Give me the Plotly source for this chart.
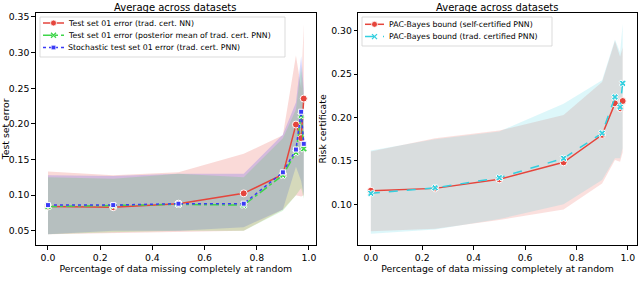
import plotly.graph_objects as go

x = [0.0, 0.25, 0.5, 0.75, 0.9, 0.95, 0.97, 0.98]

# Left panel: test errors
nn_err = [0.084, 0.083, 0.088, 0.1025, 0.129, 0.199, 0.180, 0.2355]
nn_hi = [0.133, 0.128, 0.132, 0.158, 0.184, 0.296, 0.250, 0.340]
nn_lo = [0.045, 0.047, 0.048, 0.050, 0.080, 0.100, 0.098, 0.100]

pm_err = [0.084, 0.085, 0.087, 0.086, 0.128, 0.160, 0.212, 0.165]
pm_hi = [0.125, 0.123, 0.130, 0.125, 0.180, 0.220, 0.280, 0.240]
pm_lo = [0.045, 0.048, 0.050, 0.050, 0.078, 0.100, 0.110, 0.095]

st_err = [0.086, 0.086, 0.088, 0.088, 0.132, 0.164, 0.217, 0.172]
st_hi = [0.128, 0.127, 0.130, 0.130, 0.185, 0.230, 0.295, 0.250]
st_lo = [0.045, 0.050, 0.050, 0.055, 0.080, 0.140, 0.120, 0.100]

# Right panel: risk certificates
sc_b = [0.1157, 0.1184, 0.1288, 0.1484, 0.180, 0.2163, 0.2106, 0.219]
sc_hi = [0.161, 0.176, 0.185, 0.203, 0.241, 0.288, 0.270, 0.281]
sc_lo = [0.069, 0.072, 0.082, 0.094, 0.124, 0.151, 0.149, 0.160]

tc_b = [0.1127, 0.119, 0.1307, 0.153, 0.182, 0.2236, 0.212, 0.2394]
tc_hi = [0.162, 0.175, 0.184, 0.216, 0.243, 0.290, 0.275, 0.308]
tc_lo = [0.066, 0.071, 0.083, 0.100, 0.128, 0.153, 0.153, 0.165]

left_names = ["Test set 01 error (trad. cert. NN)",
              "Test set 01 error (posterior mean of trad. cert. PNN)",
              "Stochastic test set 01 error (trad. cert. PNN)"]
right_names = ["PAC-Bayes bound (self-certified PNN)",
               "PAC-Bayes bound (trad. certified PNN)"]

RED = "#e5453c"
GREEN = "#3fd64a"
BLUE = "#3b3bf5"
CYAN = "#33cfdf"

W, H = 640, 289

def rgba(h, a):
    h = h.lstrip("#")
    r, g, b = int(h[0:2], 16), int(h[2:4], 16), int(h[4:6], 16)
    return f"rgba({r},{g},{b},{a})"

fig = go.Figure()

def band(xa, ya, lo, hi, color, alpha):
    fig.add_trace(go.Scatter(
        x=list(x) + list(x)[::-1], y=list(hi) + list(lo)[::-1],
        xaxis=xa, yaxis=ya, fill="toself", fillcolor=rgba(color, alpha),
        line=dict(width=0), mode="lines", hoverinfo="skip", showlegend=False))

def line(xa, ya, y, color, dash, symbol, size, name):
    fig.add_trace(go.Scatter(
        x=x, y=y, xaxis=xa, yaxis=ya, mode="lines+markers", name=name,
        line=dict(color=color, width=1.5, dash=dash),
        marker=dict(symbol=symbol, size=size, color=color,
                    line=dict(color="white", width=1)),
        showlegend=False))

left_styles = [(RED, "solid", "circle"), (GREEN, "dashdot", "x"), (BLUE, "dot", "square")]
right_styles = [(RED, "solid", "circle"), (CYAN, "dash", "x")]
msize = {"circle": 7, "x": 6, "square": 5}

band("x", "y", nn_lo, nn_hi, RED, 0.2)
band("x", "y", st_lo, st_hi, BLUE, 0.2)
band("x", "y", pm_lo, pm_hi, GREEN, 0.2)
for yy, nm, (c, d, s) in zip([nn_err, pm_err, st_err], left_names, left_styles):
    line("x", "y", yy, c, d, s, msize[s], nm)

band("x2", "y2", sc_lo, sc_hi, RED, 0.17)
band("x2", "y2", tc_lo, tc_hi, CYAN, 0.17)
for yy, nm, (c, d, s) in zip([sc_b, tc_b], right_names, right_styles):
    line("x2", "y2", yy, c, d, s, msize[s], nm)

# Compact matplotlib-style legends (legend decoration in pixel units)
shapes, annotations = [], []

def legend_box(x0, y0, x1, y1, names, styles, row_y, sx0, sx1, tx):
    shapes.append(dict(type="rect", xref="paper", yref="paper", layer="above",
                       x0=x0 / W, x1=x1 / W, y0=1 - y1 / H, y1=1 - y0 / H,
                       line=dict(color="#d2d2d2", width=0.8),
                       fillcolor="rgba(255,255,255,0.85)"))
    for ry, nm, (c, d, s) in zip(row_y, names, styles):
        yp = 1 - ry / H
        shapes.append(dict(type="line", xref="paper", yref="paper", layer="above",
                           x0=sx0 / W, x1=sx1 / W, y0=yp, y1=yp,
                           line=dict(color=c, width=1.5, dash=d)))
        xc = (sx0 + sx1) / 2 / W
        common = dict(xref="paper", yref="paper", layer="above", xsizemode="pixel",
                      ysizemode="pixel", xanchor=xc, yanchor=yp)
        if s == "circle":
            shapes.append(dict(type="circle", x0=-3, x1=3, y0=-3, y1=3, fillcolor=c,
                               line=dict(color="white", width=0.8), **common))
        elif s == "square":
            shapes.append(dict(type="rect", x0=-2.2, x1=2.2, y0=-2.2, y1=2.2, fillcolor=c,
                               line=dict(color="white", width=0.6), **common))
        else:
            shapes.append(dict(type="path", path="M-2.5,-2.5L2.5,2.5M-2.5,2.5L2.5,-2.5",
                               line=dict(color=c, width=1.3), **common))
        annotations.append(dict(text=nm, x=tx / W, y=yp, xref="paper", yref="paper",
                                xanchor="left", yanchor="middle", showarrow=False,
                                font=dict(size=7.8, color="black")))

legend_box(40, 17, 285, 57, left_names, left_styles, [23.0, 35.3, 47.5], 43, 64, 66)
legend_box(362, 17, 552, 46, right_names, right_styles, [24.3, 36.6], 365, 384, 387)

annotations += [
    dict(text="Average across datasets", x=0.2748, y=0.975, xref="paper", yref="paper",
         xanchor="center", yanchor="middle", showarrow=False, font=dict(size=10)),
    dict(text="Average across datasets", x=0.777, y=0.975, xref="paper", yref="paper",
         xanchor="center", yanchor="middle", showarrow=False, font=dict(size=10)),
]

axis_common = dict(showline=True, linecolor="black", linewidth=1, mirror=True,
                   ticks="outside", ticklen=3.5, tickcolor="black", showgrid=False,
                   zeroline=False, tickfont=dict(size=9.3, color="black"),
                   ticklabeloverflow="allow")

fig.update_layout(
    width=W, height=H, margin=dict(l=0, r=0, t=0, b=0),
    paper_bgcolor="white", plot_bgcolor="white",
    font=dict(family="DejaVu Sans", size=10, color="black"),
    xaxis=dict(domain=[0.0558, 0.4938], range=[-0.047, 1.027], anchor="y",
               tickvals=[0, 0.2, 0.4, 0.6, 0.8, 1.0], tickformat=".1f",
               title=dict(text="Percentage of data missing completely at random",
                          font=dict(size=9.3), standoff=2), **axis_common),
    yaxis=dict(domain=[0.152, 0.956], range=[0.0299, 0.356], anchor="x",
               tickvals=[0.05, 0.10, 0.15, 0.20, 0.25, 0.30, 0.35], tickformat=".2f",
               title=dict(text="Test set error", font=dict(size=9.3), standoff=2),
               **axis_common),
    xaxis2=dict(domain=[0.5598, 0.995], range=[-0.049, 1.035], anchor="y2",
                tickvals=[0, 0.2, 0.4, 0.6, 0.8, 1.0], tickformat=".1f",
                title=dict(text="Percentage of data missing completely at random",
                           font=dict(size=9.3), standoff=2), **axis_common),
    yaxis2=dict(domain=[0.152, 0.956], range=[0.0531, 0.3207], anchor="x2",
                tickvals=[0.10, 0.15, 0.20, 0.25, 0.30], tickformat=".2f",
                title=dict(text="Risk certificate", font=dict(size=9.3), standoff=2),
                **axis_common),
    showlegend=False,
    shapes=shapes,
    annotations=annotations,
)

fig.write_html("out.html", config={"displayModeBar": False},
               post_script="document.body.style.margin='0';")
